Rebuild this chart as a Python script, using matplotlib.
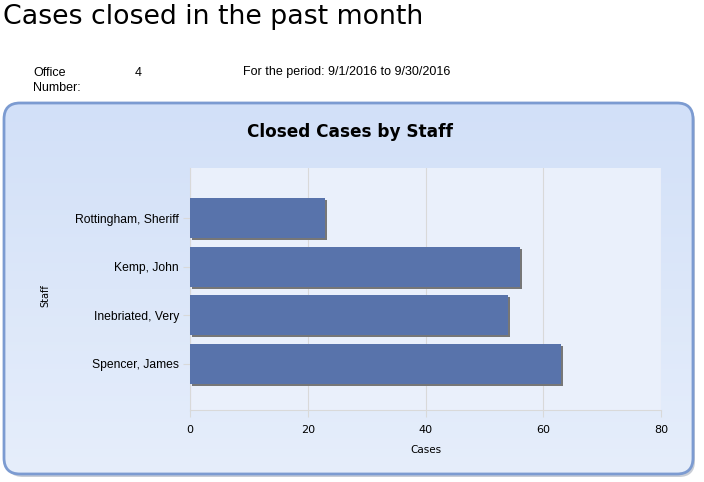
import matplotlib as mpl
mpl.use('Agg')
import matplotlib.pyplot as plt
import matplotlib.transforms as mtransforms
from matplotlib.patches import FancyBboxPatch
import numpy as np

staff = ['Spencer, James', 'Inebriated, Very', 'Kemp, John', 'Rottingham, Sheriff']
cases = [63, 54, 56, 23]
xticks = [0, 20, 40, 60, 80]

W, H = 704, 482
fig = plt.figure(figsize=(W / 100, H / 100), dpi=100)
fig.patch.set_facecolor('white')

# page header
fig.text(3 / W, 1 - 17 / H, 'Cases closed in the past month', fontsize=19.3,
         family='DejaVu Sans', va='center', ha='left', color='black')
fig.text(33 / W, 1 - 67 / H, 'Office\nNumber:', fontsize=9, family='Liberation Sans',
         va='top', ha='left', linespacing=1.3)
fig.text(135 / W, 1 - 73 / H, '4', fontsize=9, family='Liberation Sans',
         va='center', ha='left')
fig.text(243 / W, 1 - 72 / H, 'For the period: 9/1/2016 to 9/30/2016', fontsize=9,
         family='Liberation Sans', va='center', ha='left')

# rounded chart panel with gradient
panel_ax = fig.add_axes([0, 0, 1, 1], zorder=0)
panel_ax.set_xlim(0, W)
panel_ax.set_ylim(H, 0)
panel_ax.axis('off')
grad = np.linspace(0, 1, 256).reshape(-1, 1)
cmap = mpl.colors.LinearSegmentedColormap.from_list('bg', ['#d2e0f8', '#e6eefb'])
img = panel_ax.imshow(grad, cmap=cmap, extent=(4, 694, 476, 103), aspect='auto',
                      zorder=1)
shadow = FancyBboxPatch((7, 106), 688, 371, boxstyle='round,pad=0,rounding_size=16',
                        facecolor='#c8cdd6', edgecolor='none', zorder=0.5)
panel_ax.add_patch(shadow)
panel = FancyBboxPatch((4, 103), 689, 371, boxstyle='round,pad=0,rounding_size=16',
                       facecolor='none', edgecolor='#7c9bd1', linewidth=2, zorder=3)
panel_ax.add_patch(panel)
clip = FancyBboxPatch((4, 103), 689, 371, boxstyle='round,pad=0,rounding_size=16',
                      transform=panel_ax.transData, facecolor='none')
img.set_clip_path(clip)

fig.text(350 / W, 1 - 132 / H, 'Closed Cases by Staff', fontsize=12.2, weight='bold',
         family='DejaVu Sans', ha='center', va='center')

# plot area
x0, x1, y0, y1 = 190, 661, 168, 410
ax = fig.add_axes([x0 / W, 1 - y1 / H, (x1 - x0) / W, (y1 - y0) / H], zorder=2)
ax.set_facecolor('#eaf0fb')
pos = np.arange(len(staff))
off = mtransforms.ScaledTranslation(2 / 100, -2 / 100, fig.dpi_scale_trans)
ax.barh(pos, cases, height=0.82, color='#777777', transform=ax.transData + off, zorder=2)
ax.barh(pos, cases, height=0.82, color='#5873ab', zorder=3)
ax.set_xlim(0, 80)
ax.set_ylim(-0.95, 4.03)
ax.set_xticks(xticks)
ax.set_xticklabels([str(t) for t in xticks], fontsize=8, family='DejaVu Sans')
ax.set_yticks(pos)
ax.set_yticklabels(staff, fontsize=8.7, family='Liberation Sans')
ax.grid(axis='x', color='#d9d9d9', linewidth=0.8, zorder=1)
for s in ['top', 'right']:
    ax.spines[s].set_visible(False)
for s in ['left', 'bottom']:
    ax.spines[s].set_color('#d9d9d9')
ax.tick_params(axis='both', color='#d9d9d9', length=5)
ax.tick_params(axis='y', pad=3)
ax.tick_params(axis='x', pad=6)
ax.set_xlabel('Cases', fontsize=7.5, family='DejaVu Sans', labelpad=7)
fig.text(45 / W, 1 - 296 / H, 'Staff', fontsize=7, family='DejaVu Sans',
         rotation=90, ha='center', va='center')

fig.savefig('out.png', dpi=100)
